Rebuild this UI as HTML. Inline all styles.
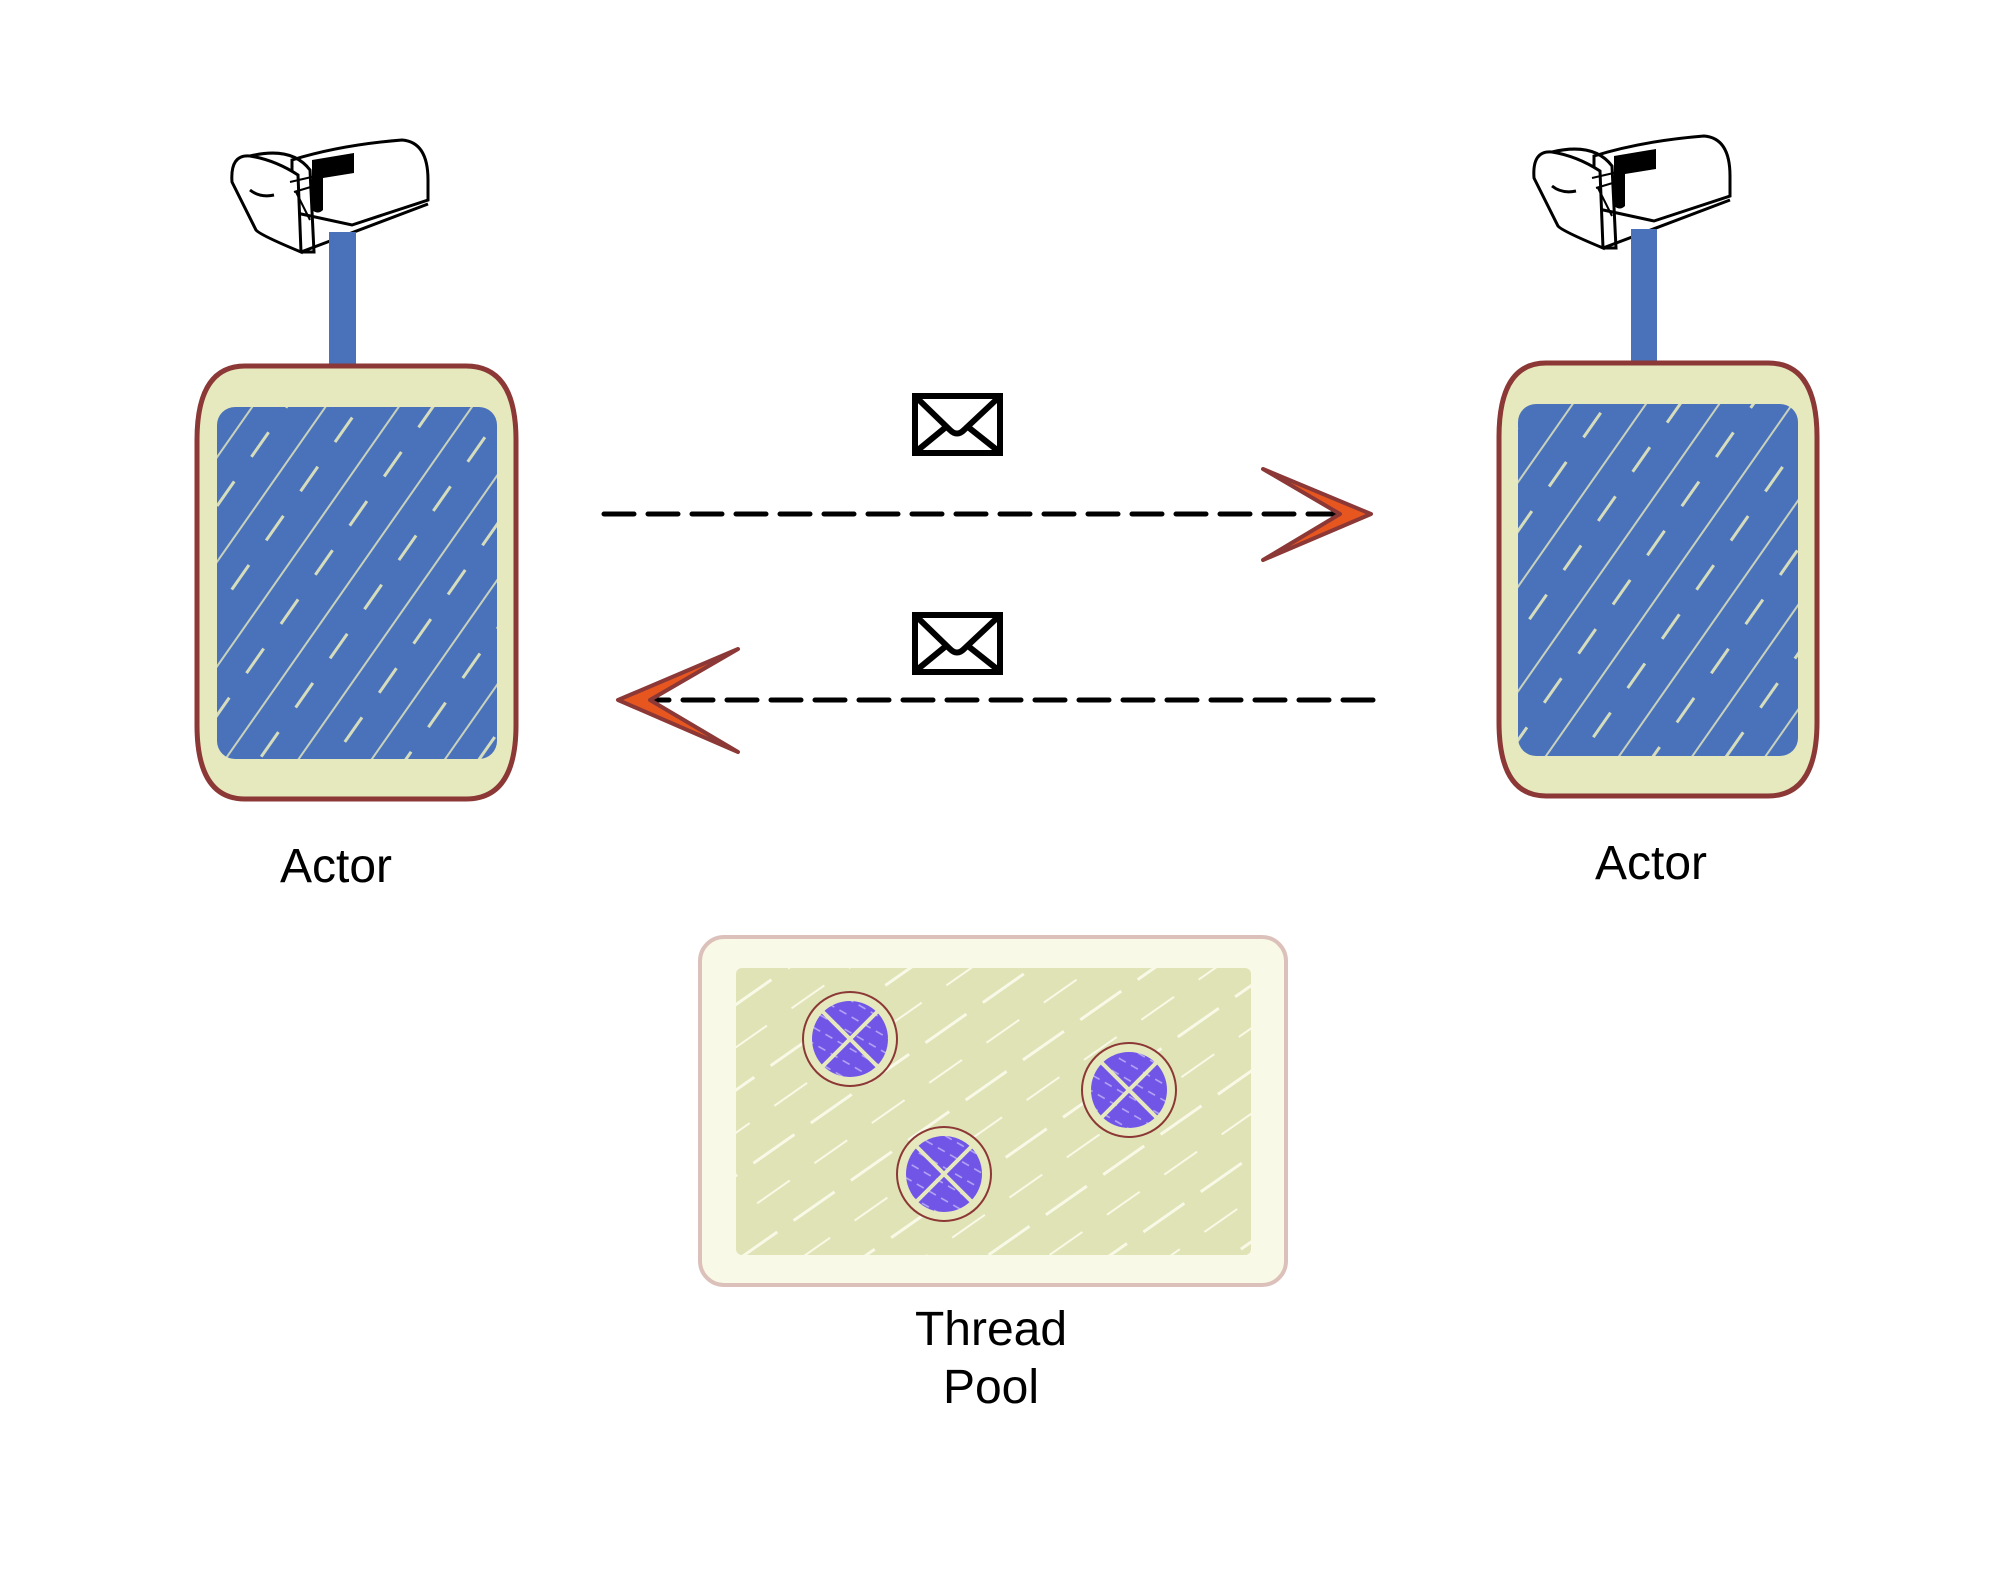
<!DOCTYPE html>
<html><head><meta charset="utf-8"><style>
html,body{margin:0;padding:0;background:#fff;}
svg{display:block;}
text{font-family:"Liberation Sans",Arial,sans-serif;fill:#000;}
</style></head><body>
<svg width="2003" height="1580" viewBox="0 0 2003 1580" xmlns="http://www.w3.org/2000/svg">
<defs>
<pattern id="hatch" patternUnits="userSpaceOnUse" width="60" height="60" patternTransform="rotate(-55)">
<rect width="60" height="60" fill="#4a72ba"/>
<line x1="0" y1="20" x2="60" y2="20" stroke="#e6e9bd" stroke-width="2" opacity="0.8"/>
<line x1="10" y1="48" x2="40" y2="48" stroke="#e6e9bd" stroke-width="3" opacity="0.9"/>
</pattern>
<pattern id="hatch2" patternUnits="userSpaceOnUse" width="70" height="70" patternTransform="rotate(-35)">
<rect width="70" height="70" fill="#e0e3b6"/>
<line x1="0" y1="20" x2="40" y2="20" stroke="#f8f9e6" stroke-width="2"/>
<line x1="20" y1="55" x2="70" y2="55" stroke="#f8f9e6" stroke-width="3"/>
</pattern>
<pattern id="hatch3" patternUnits="userSpaceOnUse" width="14" height="14" patternTransform="rotate(30)">
<rect width="14" height="14" fill="#7055e6"/>
<line x1="0" y1="7" x2="8" y2="7" stroke="#b7aaf5" stroke-width="1.5"/>
</pattern>
<g id="mailbox">
<path d="M62,20 Q110,5 172,0 Q198,2 198,40 L198,60 L122,85 L62,72 Z" fill="#fff" stroke="#000" stroke-width="3"/>
<path d="M20,16 Q45,20 68,35 L71,112 Q30,95 26,90 L2,42 Q0,14 20,16 Z" fill="#fff" stroke="#000" stroke-width="3"/>
<path d="M20,16 Q62,6 80,30 L84,112 L71,112" fill="none" stroke="#000" stroke-width="3"/>
<path d="M71,112 L198,64" fill="none" stroke="#000" stroke-width="3"/>
<path d="M60,42 L86,36 M64,52 L84,46 M66,52 L80,80" stroke="#000" stroke-width="2"/>
<path d="M20,50 Q30,58 44,55" fill="none" stroke="#000" stroke-width="3"/>
<path d="M82,20 L124,13 L124,33 L93,38 L93,70 Q88,75 82,70 Z" fill="#000"/>
</g>
</defs>

<!-- left actor -->
<use href="#mailbox" x="230" y="140"/>
<rect x="329" y="232" width="27" height="134" fill="#4a72ba"/>
<path d="M245,366 L466,366 Q516,366 516,440 L516,725 Q516,799 466,799 L245,799 Q197,799 197,725 L197,440 Q197,366 245,366 Z" fill="#e6e9bd" stroke="#8b3836" stroke-width="5"/>
<rect x="217" y="407" width="280" height="352" rx="18" fill="url(#hatch)"/>
<text x="336" y="882" font-size="48" text-anchor="middle">Actor</text>

<!-- right actor -->
<use href="#mailbox" x="1532" y="136"/>
<rect x="1631" y="229" width="26" height="135" fill="#4a72ba"/>
<path d="M1546,363 L1768,363 Q1817,363 1817,437 L1817,722 Q1817,796 1768,796 L1546,796 Q1499,796 1499,722 L1499,437 Q1499,363 1546,363 Z" fill="#e6e9bd" stroke="#8b3836" stroke-width="5"/>
<rect x="1518" y="404" width="280" height="352" rx="18" fill="url(#hatch)"/>
<text x="1651" y="879" font-size="48" text-anchor="middle">Actor</text>

<!-- envelopes -->
<g fill="none" stroke="#000" stroke-width="6">
<rect x="915" y="396" width="85" height="57"/>
<path d="M918,399 L950,430 Q957,437 964,430 L997,399 M918,450 L946,427 M997,450 L968,427"/>
<rect x="915" y="615" width="85" height="57"/>
<path d="M918,618 L950,649 Q957,656 964,649 L997,618 M918,669 L946,646 M997,669 L968,646"/>
</g>

<!-- arrows -->
<line x1="604" y1="514" x2="1345" y2="514" stroke="#000" stroke-width="5" stroke-dasharray="30 14" stroke-linecap="round"/>
<path d="M1263,469 L1371,514 L1263,560 L1340,514 Z" fill="#e8561f" stroke="#8b3836" stroke-width="4" stroke-linejoin="round"/>
<line x1="1373" y1="700" x2="651" y2="700" stroke="#000" stroke-width="5" stroke-dasharray="30 14" stroke-linecap="round"/>
<path d="M738,649 L618,700 L738,752 L650,700 Z" fill="#e8561f" stroke="#8b3836" stroke-width="4" stroke-linejoin="round"/>

<!-- thread pool -->
<rect x="700" y="937" width="586" height="348" rx="24" fill="#f8f9e6" stroke="#dcc1bb" stroke-width="4"/>
<rect x="736" y="968" width="515" height="287" rx="6" fill="url(#hatch2)"/>
<g>
<circle cx="850" cy="1039" r="47" fill="#e6e9bd" stroke="#8b3836" stroke-width="2"/>
<circle cx="850" cy="1039" r="38" fill="url(#hatch3)"/>
<path d="M823,1012 L877,1066 M877,1012 L823,1066" stroke="#e6e9bd" stroke-width="4"/>
<circle cx="1129" cy="1090" r="47" fill="#e6e9bd" stroke="#8b3836" stroke-width="2"/>
<circle cx="1129" cy="1090" r="38" fill="url(#hatch3)"/>
<path d="M1102,1063 L1156,1117 M1156,1063 L1102,1117" stroke="#e6e9bd" stroke-width="4"/>
<circle cx="944" cy="1174" r="47" fill="#e6e9bd" stroke="#8b3836" stroke-width="2"/>
<circle cx="944" cy="1174" r="38" fill="url(#hatch3)"/>
<path d="M917,1147 L971,1201 M971,1147 L917,1201" stroke="#e6e9bd" stroke-width="4"/>
</g>
<text x="991" y="1345" font-size="48" text-anchor="middle">Thread</text>
<text x="991" y="1403" font-size="48" text-anchor="middle">Pool</text>
</svg>
</body></html>
